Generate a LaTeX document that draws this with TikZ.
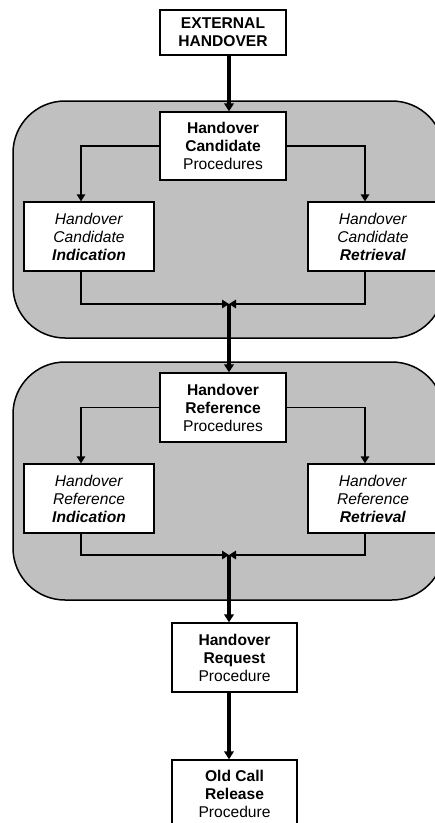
\documentclass[tikz,border=0pt]{standalone}
\usepackage{fontspec}
\setmainfont{Liberation Sans}
\usetikzlibrary{arrows.meta}
\definecolor{regiongray}{HTML}{C0C0C0}
\newcommand\figfont{\fontsize{15.6}{18}\selectfont}
\tikzset{
  box/.style={draw, line width=1.3pt, fill=white, minimum width=126pt, minimum height=68pt, inner sep=0pt, align=center, font=\figfont},
  sidebox/.style={box, minimum width=130pt, minimum height=69pt},
  region/.style={draw, line width=1.5pt, fill=regiongray, rounded corners=52pt, inner sep=0pt, minimum width=431pt},
  thinarr/.style={line width=1.3pt, -{Triangle[length=7pt,width=8.5pt]}},
  thickarr/.style={line width=3.3pt, -{Triangle[length=8pt,width=9.5pt]}},
  plain/.style={line width=1.3pt}
}
\begin{document}
\begin{tikzpicture}[x=1pt,y=-1pt]
\useasboundingbox (0,0) rectangle (435,823);
\clip (0,0) rectangle (435,823);
\fill[white] (0,0) rectangle (435,823);
% regions
\node[region, minimum height=237pt] (r1) at (228.5,219.5) {};
\node[region, minimum height=238pt] (r2) at (228.5,481) {};
% boxes
\node[box, minimum height=45pt] (ext) at (223,32.5) {\textbf{EXTERNAL}\\\textbf{HANDOVER}};
\node[box] (p1) at (223,146) {\textbf{Handover}\\\textbf{Candidate}\\Procedures};
\node[sidebox] (i1) at (89,236.5) {\textit{Handover}\\\textit{Candidate}\\\textbf{\textit{Indication}}};
\node[sidebox] (t1) at (373,236.5) {\textit{Handover}\\\textit{Candidate}\\\textbf{\textit{Retrieval}}};
\node[box, minimum height=69pt] (p2) at (223,407.5) {\textbf{Handover}\\\textbf{Reference}\\Procedures};
\node[sidebox] (i2) at (89,498.5) {\textit{Handover}\\\textit{Reference}\\\textbf{\textit{Indication}}};
\node[sidebox] (t2) at (373,498.5) {\textit{Handover}\\\textit{Reference}\\\textbf{\textit{Retrieval}}};
\node[box, minimum width=125pt, minimum height=69pt] (req) at (234.5,657.5) {\textbf{Handover}\\\textbf{Request}\\Procedure};
\node[box, minimum width=125pt, minimum height=68pt] (old) at (234.5,794) {\textbf{Old Call}\\\textbf{Release}\\Procedure};
% merge points
\coordinate (m1) at (229,304);
\coordinate (m2) at (229,555);
% connectors, block 1
\draw[thickarr] ([xshift=6pt]ext.south) -- ([xshift=6pt]p1.north);
\draw[thinarr] (p1.west) -| ([xshift=-8pt]i1.north);
\draw[thinarr] (p1.east) -| ([xshift=-8pt]t1.north);
\draw[thinarr] ([xshift=-8pt]i1.south) |- (m1);
\draw[thinarr] ([xshift=-8pt]t1.south) |- (m1);
\draw[thickarr] (m1) -- ([xshift=6pt]p2.north);
% block 2
\draw[thinarr] (p2.west) -| ([xshift=-8pt]i2.north);
\draw[thinarr] (p2.east) -| ([xshift=-8pt]t2.north);
\draw[thinarr] ([xshift=-8pt]i2.south) |- (m2);
\draw[thinarr] ([xshift=-8pt]t2.south) |- (m2);
\draw[thickarr] (m2) -- ([xshift=-5.5pt]req.north);
\draw[thickarr] ([xshift=-5.5pt]req.south) -- ([xshift=-5.5pt]old.north);
\end{tikzpicture}
\end{document}
